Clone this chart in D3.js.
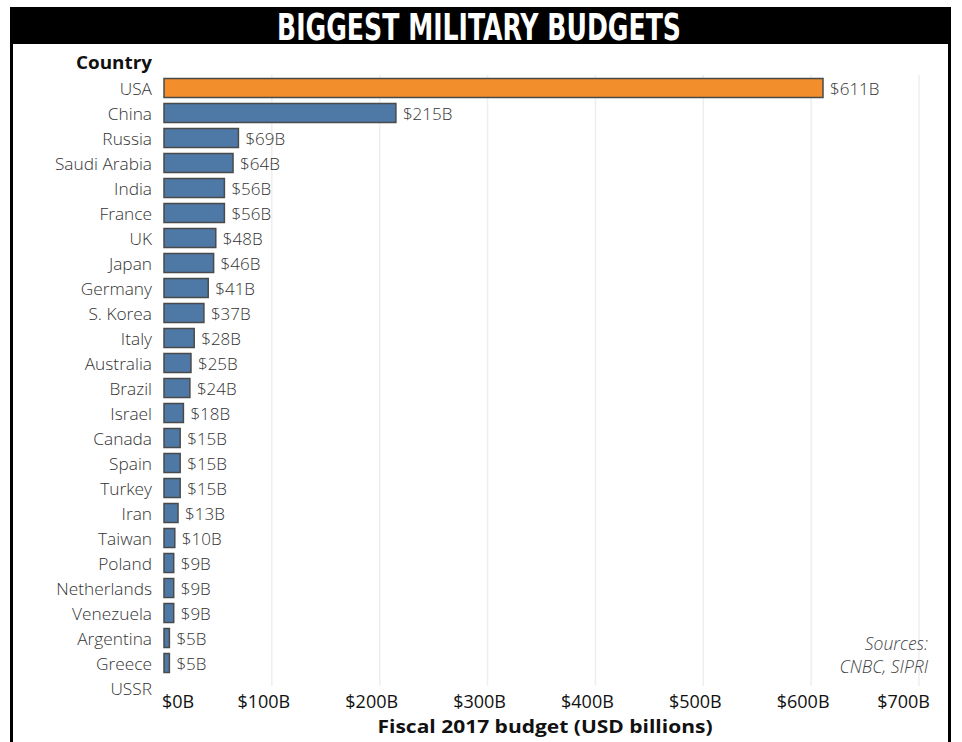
<!DOCTYPE html>
<html><head><meta charset="utf-8">
<script src="https://cdn.jsdelivr.net/npm/d3@7"></script>
<style>body{margin:0;background:#fff}svg{display:block}</style>
</head><body>
<svg id="c" width="962" height="742"></svg>
<script>
const countries = ["USA","China","Russia","Saudi Arabia","India","France","UK","Japan","Germany","S. Korea","Italy","Australia","Brazil","Israel","Canada","Spain","Turkey","Iran","Taiwan","Poland","Netherlands","Venezuela","Argentina","Greece","USSR"];
const budgets = [611,215,69,64,56,56,48,46,41,37,28,25,24,18,15,15,15,13,10,9,9,9,5,5,null];
const tickValues = [0,100,200,300,400,500,600,700];
const tickLabels = ["$0B","$100B","$200B","$300B","$400B","$500B","$600B","$700B"];
const title = "BIGGEST MILITARY BUDGETS";
const sources = ["Sources:","CNBC, SIPRI"];

const svg = d3.select("#c");
const font = "'Open Sans', 'Noto Sans', sans-serif";

// frame
svg.append("rect").attr("x",10).attr("y",7).attr("width",941).attr("height",37).attr("fill","#000");
svg.append("line").attr("x1",11.5).attr("x2",11.5).attr("y1",7).attr("y2",742).attr("stroke","#000").attr("stroke-width",3);
svg.append("line").attr("x1",949.5).attr("x2",949.5).attr("y1",7).attr("y2",742).attr("stroke","#000").attr("stroke-width",3);
svg.append("text").attr("x",479).attr("y",40).attr("text-anchor","middle")
  .attr("font-family","'Liberation Sans Narrow','DejaVu Sans Condensed',sans-serif").attr("font-weight","bold")
  .attr("font-size",37).attr("fill","#fff").attr("textLength",404).attr("lengthAdjust","spacingAndGlyphs").text(title);

const x = d3.scaleLinear().domain([0,700]).range([164,919]);
const y = d3.scaleBand().domain(countries).range([75.5,700.5]).paddingInner(0.24).paddingOuter(0.12);

// gridlines
svg.append("g").selectAll("line").data(tickValues.slice(1)).join("line")
  .attr("x1",d=>x(d)).attr("x2",d=>x(d)).attr("y1",75).attr("y2",686)
  .attr("stroke","#eeeeee").attr("stroke-width",1.5);

// bars
const data = countries.map((c,i)=>({c, v:budgets[i]}));
svg.append("g").selectAll("rect").data(data.filter(d=>d.v!=null)).join("rect")
  .attr("x",x(0)).attr("y",d=>y(d.c)).attr("width",d=>x(d.v)-x(0)).attr("height",y.bandwidth())
  .attr("fill",d=>d.c==="USA"?"#f28e2b":"#4e79a7").attr("stroke","#4a4a4a").attr("stroke-width",1.5);

// value labels
svg.append("g").selectAll("text").data(data.filter(d=>d.v!=null)).join("text")
  .attr("x",d=>x(d.v)+7).attr("y",d=>y(d.c)+y.bandwidth()/2+6.5)
  .attr("font-family",font).attr("font-weight",300).attr("font-size",17).attr("fill","#333").text(d=>"$"+d.v+"B");

// category labels
svg.append("g").selectAll("text").data(countries).join("text")
  .attr("x",152).attr("y",d=>y(d)+y.bandwidth()/2+6.5).attr("text-anchor","end")
  .attr("font-family",font).attr("font-weight",300).attr("font-size",17.3).attr("fill","#333").text(d=>d);
svg.append("text").attr("x",152).attr("y",69).attr("text-anchor","end")
  .attr("font-family",font).attr("font-weight","bold").attr("font-size",17.5).attr("fill","#111")
  .attr("textLength",76).attr("lengthAdjust","spacingAndGlyphs").text("Country");

// x tick labels
svg.append("g").selectAll("text").data(tickValues).join("text")
  .attr("x",(d,i)=> i===0 ? x(d)-2 : (i===tickValues.length-1 ? x(d)+11 : x(d)-8))
  .attr("y",708)
  .attr("text-anchor",(d,i)=> i===0?"start":(i===tickValues.length-1?"end":"middle"))
  .attr("font-family",font).attr("font-weight",500).attr("font-size",18).attr("fill","#111")
  .text((d,i)=>tickLabels[i]);
svg.append("text").attr("x",545).attr("y",733).attr("text-anchor","middle")
  .attr("font-family",font).attr("font-weight","bold").attr("font-size",17).attr("fill","#111")
  .attr("textLength",335).attr("lengthAdjust","spacingAndGlyphs")
  .text("Fiscal 2017 budget (USD billions)");

// sources
svg.append("g").selectAll("text").data(sources).join("text")
  .attr("x",928).attr("y",(d,i)=>650+i*23).attr("text-anchor","end")
  .attr("font-family",font).attr("font-style","italic").attr("font-weight",300).attr("font-size",17.5).attr("fill","#444").text(d=>d);
</script>
</body></html>
